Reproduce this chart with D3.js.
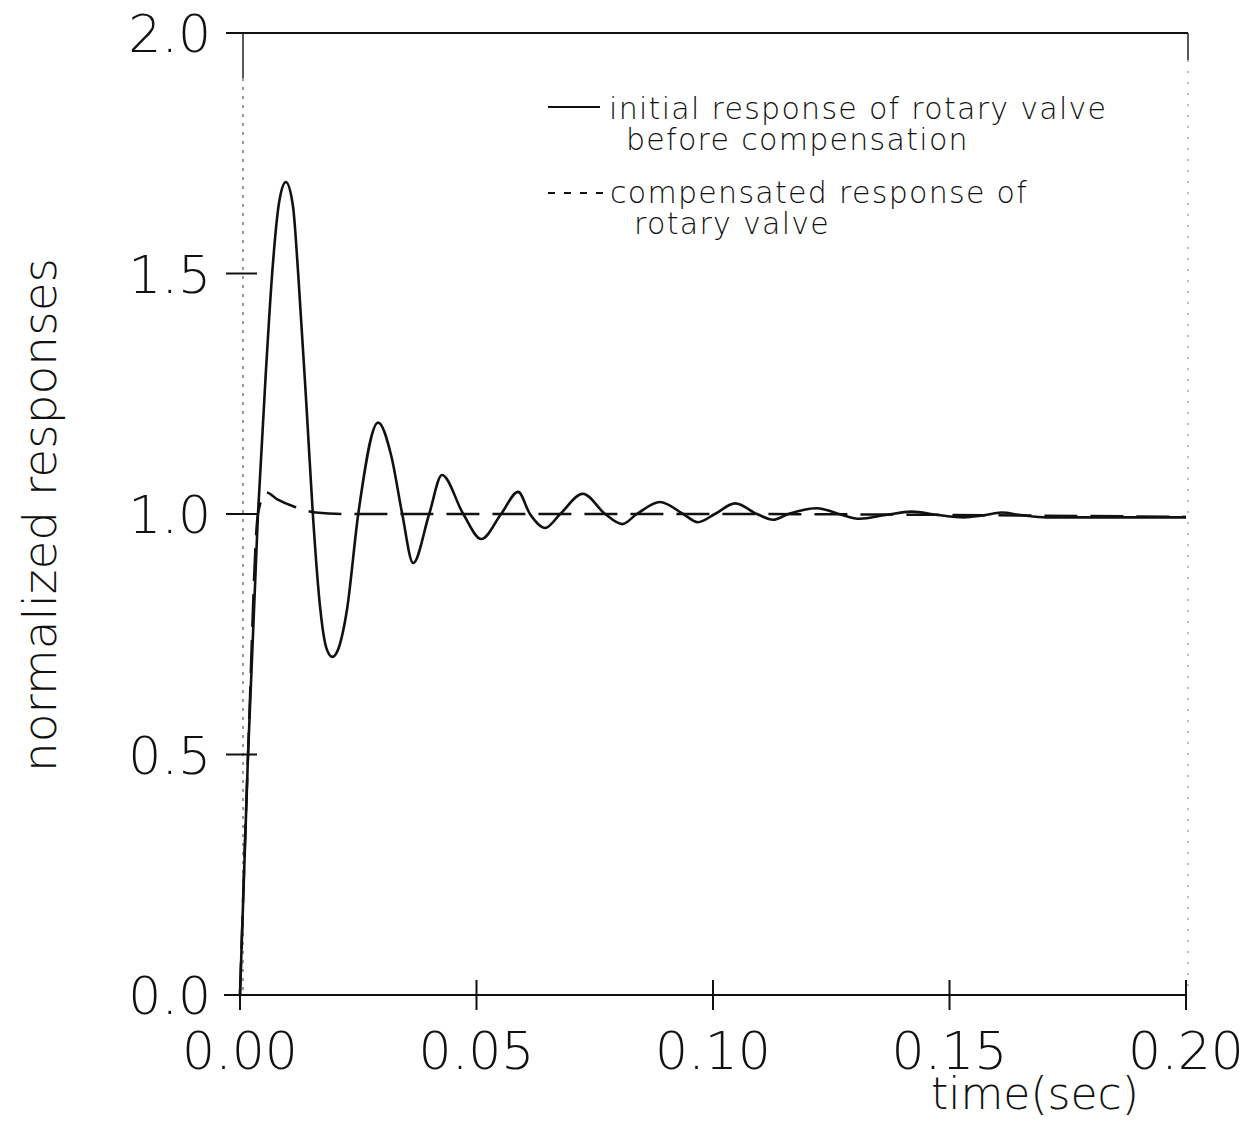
<!DOCTYPE html>
<html>
<head>
<meta charset="utf-8">
<script src="https://cdn.jsdelivr.net/npm/d3@7"></script>
<style>
  body { margin: 0; background: #fff; }
  text { font-family: "DejaVu Sans", sans-serif; fill: #111; }
  .tick-label { font-size: 52px; font-weight: 200; }
  .legend text { font-size: 30px; font-weight: 300; letter-spacing: 1.3px; }
</style>
</head>
<body>
<svg id="chart" width="1258" height="1124"></svg>
<script>
'use strict'

// tick values
var xTicks = [0, 0.05, 0.10, 0.15, 0.20]
var yTicks = [0, 0.5, 1.0, 1.5, 2.0]

// initial response of rotary valve (before compensation)
var solidT = [0, 0.0017, 0.0038, 0.0055, 0.0068, 0.0083, 0.0097, 0.0112, 0.0123, 0.0142, 0.0154,
  0.0170, 0.0183, 0.0195, 0.0208, 0.0226, 0.0250, 0.0292, 0.0320, 0.0343, 0.0366,
  0.0400, 0.0427, 0.0472, 0.0510, 0.0552, 0.0588, 0.0613, 0.0645, 0.0677, 0.0725, 0.0772, 0.0808,
  0.0839, 0.0888, 0.0937, 0.0968, 0.1004, 0.1047, 0.1093, 0.1127, 0.1159, 0.1220, 0.1270, 0.1310,
  0.1365, 0.1420, 0.1475, 0.1530, 0.1570, 0.1610, 0.1650, 0.1706, 0.2000]
var solidV = [0, 0.50, 1.00, 1.30, 1.50, 1.65, 1.69, 1.64, 1.50, 1.20, 1.00,
  0.80, 0.72, 0.703, 0.72, 0.80, 1.00, 1.19, 1.12, 1.00, 0.898,
  1.00, 1.081, 1.00, 0.948, 1.00, 1.046, 1.00, 0.971, 1.00, 1.042, 1.00, 0.979,
  1.00, 1.025, 1.00, 0.983, 1.00, 1.022, 1.00, 0.988, 1.00, 1.012, 0.999, 0.990,
  0.998, 1.005, 0.998, 0.993, 0.997, 1.003, 0.998, 0.993, 0.993]

// compensated response of rotary valve
var dashT = [0, 0.0017, 0.0038, 0.0055, 0.0080, 0.0115, 0.0160, 0.0220, 0.1000, 0.2000]
var dashV = [0, 0.50, 1.00, 1.045, 1.03, 1.015, 1.003, 1.00, 1.00, 0.994]

var legendRows = [
  {lines: ['initial response of rotary valve', 'before compensation'], dash: null},
  {lines: ['compensated response of', 'rotary valve'], dash: '7,9'}
]

var svg = d3.select('#chart')

var x = d3.scaleLinear().domain([0, 0.2]).range([240, 1186])
var y = d3.scaleLinear().domain([0, 2]).range([995, 33])

// frame: solid top, faint dotted sides (scanned look)
svg.append('line')
  .attr('x1', 228).attr('x2', 1188).attr('y1', y(2)).attr('y2', y(2))
  .attr('stroke', '#111').attr('stroke-width', 2)
svg.append('line')
  .attr('x1', 243).attr('x2', 243).attr('y1', y(2)).attr('y2', 78)
  .attr('stroke', '#222').attr('stroke-width', 1.5)
svg.append('line')
  .attr('x1', 243).attr('x2', 243).attr('y1', 78).attr('y2', y(0))
  .attr('stroke', '#555').attr('stroke-width', 1.2).attr('stroke-dasharray', '3,6')
svg.append('line')
  .attr('x1', 1188).attr('x2', 1188).attr('y1', y(2)).attr('y2', 60)
  .attr('stroke', '#222').attr('stroke-width', 1.5)
svg.append('line')
  .attr('x1', 1188).attr('x2', 1188).attr('y1', 60).attr('y2', y(0))
  .attr('stroke', '#777').attr('stroke-width', 1).attr('stroke-dasharray', '2,9')

// bottom axis
svg.append('line')
  .attr('x1', 224).attr('x2', x(0.2)).attr('y1', y(0)).attr('y2', y(0))
  .attr('stroke', '#111').attr('stroke-width', 2)

var yAxis = svg.append('g')
yAxis.selectAll('line')
  .data(yTicks)
  .enter().append('line')
    .attr('x1', 226).attr('x2', 257)
    .attr('y1', d => y(d)).attr('y2', d => y(d))
    .attr('stroke', '#111').attr('stroke-width', 2)
yAxis.selectAll('text')
  .data(yTicks)
  .enter().append('text')
    .attr('class', 'tick-label')
    .attr('x', 211)
    .attr('y', d => y(d) + 19)
    .attr('text-anchor', 'end')
    .text(d => d3.format('.1f')(d))

var xAxis = svg.append('g')
xAxis.selectAll('line')
  .data(xTicks)
  .enter().append('line')
    .attr('x1', d => x(d)).attr('x2', d => x(d))
    .attr('y1', 980).attr('y2', 1010)
    .attr('stroke', '#111').attr('stroke-width', 2)
xAxis.selectAll('text')
  .data(xTicks)
  .enter().append('text')
    .attr('class', 'tick-label')
    .attr('x', d => x(d))
    .attr('y', 1069)
    .attr('text-anchor', 'middle')
    .text(d => d3.format('.2f')(d))

// axis titles
svg.append('text')
  .attr('transform', 'translate(56,515) rotate(-90)')
  .attr('text-anchor', 'middle')
  .style('font-size', '47px').style('font-weight', 200)
  .text('normalized responses')

svg.append('text')
  .attr('x', 1035).attr('y', 1109)
  .attr('text-anchor', 'middle')
  .style('font-size', '44px').style('font-weight', 200)
  .text('time(sec)')

// curves
var line = d3.line()
  .x(d => x(d[0]))
  .y(d => y(d[1]))
  .curve(d3.curveMonotoneX)

var dashData = d3.zip(dashT, dashV)
var solidData = d3.zip(solidT, solidV)

svg.append('path')
  .datum(dashData)
  .attr('d', line)
  .attr('fill', 'none')
  .attr('stroke', '#111')
  .attr('stroke-width', 2.5)
  .attr('stroke-dasharray', '33,13')

svg.append('path')
  .datum(solidData)
  .attr('d', line)
  .attr('fill', 'none')
  .attr('stroke', '#111')
  .attr('stroke-width', 2.6)

// legend
var legend = svg.append('g').attr('class', 'legend')
var rowY = [{mark: 107, base: [119, 150]}, {mark: 193, base: [203, 234]}]
var textX = [[609, 626], [610, 634]]

legendRows.forEach(function(r, i){
  let seg = legend.append('line')
    .attr('x1', 548).attr('x2', i == 0 ? 600 : 606)
    .attr('y1', rowY[i].mark).attr('y2', rowY[i].mark)
    .attr('stroke', '#111').attr('stroke-width', 2)
  if (r.dash) seg.attr('stroke-dasharray', r.dash)

  r.lines.forEach(function(t, j){
    legend.append('text')
      .attr('x', textX[i][j])
      .attr('y', rowY[i].base[j])
      .text(t)
  })
})
</script>
</body>
</html>
